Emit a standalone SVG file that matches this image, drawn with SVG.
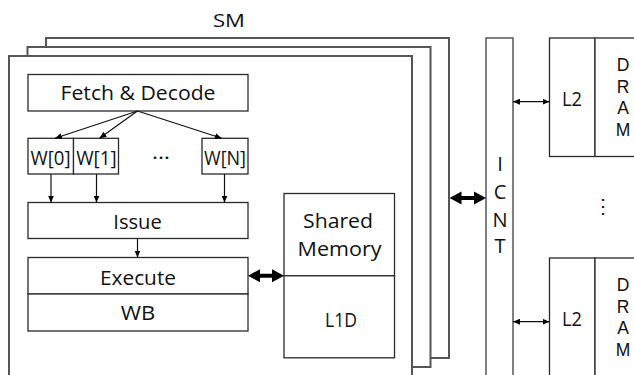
<svg xmlns="http://www.w3.org/2000/svg" width="634" height="375" viewBox="0 0 634 375">
<style>
.stack{fill:#fff;stroke:#555;stroke-width:2}
.box{fill:#fff;stroke:#2a2a2a;stroke-width:1.3}
.gbox{fill:#fff;stroke:#555;stroke-width:1.5}
.lbl{font-family:"Open Sans","Liberation Sans",sans-serif;font-size:20px;fill:#111;text-anchor:middle}
.sm{font-size:19px}
.dl{font-family:"Liberation Sans","Open Sans",sans-serif;font-size:17.5px}
.ln{fill:none;stroke:#111;stroke-width:1.2}
.thin{marker-start:url(#ah);marker-end:url(#ah)}
.one{marker-end:url(#ah)}
.bold{fill:#000;stroke:none}
</style>
<defs>
<marker id="ah" markerUnits="userSpaceOnUse" markerWidth="7" markerHeight="6" refX="7" refY="3" orient="auto-start-reverse">
<path d="M0,0 L7,3 L0,6 Z" fill="#000"/>
</marker>
</defs>
<rect width="634" height="375" fill="#fff"/>
<g id="sm-stack">
<rect class="stack" x="46" y="38" width="403" height="320"/>
<rect class="stack" x="27.5" y="47" width="403" height="320"/>
<rect class="stack" x="9" y="56" width="403" height="330"/>
<text class="lbl sm" x="229" y="27" textLength="32" lengthAdjust="spacingAndGlyphs">SM</text>
</g>
<g id="fetch-decode">
<rect class="box" x="28" y="74.5" width="220" height="36.5"/>
<text class="lbl" x="138" y="99.5" textLength="155" lengthAdjust="spacingAndGlyphs">Fetch &amp; Decode</text>
</g>
<g id="w0">
<rect class="box" x="28" y="138.3" width="45.5" height="35.7"/>
<text class="lbl" x="50.5" y="164.5" textLength="40" lengthAdjust="spacingAndGlyphs">W[0]</text>
</g>
<g id="w1">
<rect class="box" x="73.5" y="138.3" width="45" height="35.7"/>
<text class="lbl" x="96.4" y="164.5" textLength="40.5" lengthAdjust="spacingAndGlyphs">W[1]</text>
</g>
<g id="warp-dots">
<text class="lbl" x="161" y="158.5" textLength="18" lengthAdjust="spacingAndGlyphs">…</text>
</g>
<g id="wn">
<rect class="box" x="202" y="138.3" width="46" height="35.7"/>
<text class="lbl" x="225" y="164.5" textLength="42" lengthAdjust="spacingAndGlyphs">W[N]</text>
</g>
<g id="issue">
<rect class="box" x="28" y="202.5" width="220" height="36"/>
<text class="lbl" x="137.5" y="229" textLength="48.5" lengthAdjust="spacingAndGlyphs">Issue</text>
</g>
<g id="execute">
<rect class="box" x="28" y="257.5" width="220" height="36.5"/>
<text class="lbl" x="138" y="284.5" textLength="76" lengthAdjust="spacingAndGlyphs">Execute</text>
</g>
<g id="wb">
<rect class="box" x="28" y="294" width="220" height="37"/>
<text class="lbl" x="138" y="319.5" textLength="34.5" lengthAdjust="spacingAndGlyphs">WB</text>
</g>
<g id="shared-memory">
<rect class="box" x="284" y="193.5" width="110.5" height="82.3"/>
<text class="lbl" x="338" y="228" textLength="70" lengthAdjust="spacingAndGlyphs">Shared</text>
<text class="lbl" x="339.5" y="256" textLength="84" lengthAdjust="spacingAndGlyphs">Memory</text>
</g>
<g id="l1d">
<rect class="box" x="284" y="275.8" width="110.5" height="82"/>
<text class="lbl" x="341" y="326.5" textLength="32" lengthAdjust="spacingAndGlyphs">L1D</text>
</g>
<g id="icnt">
<rect class="gbox" x="486" y="38" width="27" height="345"/>
<text class="lbl" x="500" y="170.5">I</text>
<text class="lbl" x="500" y="199">C</text>
<text class="lbl" x="500" y="227">N</text>
<text class="lbl" x="500" y="253">T</text>
</g>
<g id="l2-top">
<rect class="box" x="549.5" y="38" width="45.5" height="118.5"/>
<text class="lbl" x="572" y="105.5" textLength="20" lengthAdjust="spacingAndGlyphs">L2</text>
</g>
<g id="dram-top">
<rect class="box" x="595" y="38" width="50" height="118.5"/>
<text class="lbl dl" x="623" y="70.5">D</text>
<text class="lbl dl" x="623" y="92.5">R</text>
<text class="lbl dl" x="623" y="114">A</text>
<text class="lbl dl" x="623" y="135.5">M</text>
</g>
<g id="partition-dots">
<text class="lbl" x="603" y="213" font-family="DejaVu Sans">⋮</text>
</g>
<g id="l2-bottom">
<rect class="box" x="549.5" y="258" width="45.5" height="130"/>
<text class="lbl" x="572" y="325.5" textLength="20" lengthAdjust="spacingAndGlyphs">L2</text>
</g>
<g id="dram-bottom">
<rect class="box" x="595" y="258" width="50" height="130"/>
<text class="lbl dl" x="623" y="290.5">D</text>
<text class="lbl dl" x="623" y="312.5">R</text>
<text class="lbl dl" x="623" y="334">A</text>
<text class="lbl dl" x="623" y="355.5">M</text>
</g>
<g id="connectors">
<line class="ln one" x1="137.5" y1="111" x2="55" y2="138.3"/>
<line class="ln one" x1="137.5" y1="111" x2="99.5" y2="138.3"/>
<line class="ln one" x1="137.5" y1="111" x2="221.7" y2="138.3"/>
<line class="ln one" x1="51" y1="174" x2="51" y2="202.5"/>
<line class="ln one" x1="96.5" y1="174" x2="96.5" y2="202.5"/>
<line class="ln one" x1="224.5" y1="174" x2="224.5" y2="202.5"/>
<line class="ln one" x1="137.5" y1="238.5" x2="137.5" y2="257.5"/>
<path class="bold" d="M248,275.7 L260,269.2 L260,273.7 L272,273.7 L272,269.2 L284,275.7 L272,282.2 L272,277.7 L260,277.7 L260,282.2 Z"/>
<path class="bold" d="M449.5,198 L461.5,191.5 L461.5,196 L474,196 L474,191.5 L486,198 L474,204.5 L474,200 L461.5,200 L461.5,204.5 Z"/>
<line class="ln thin" x1="513" y1="101.7" x2="549.5" y2="101.7"/>
<line class="ln thin" x1="513" y1="321.7" x2="549.5" y2="321.7"/>
</g>
</svg>
